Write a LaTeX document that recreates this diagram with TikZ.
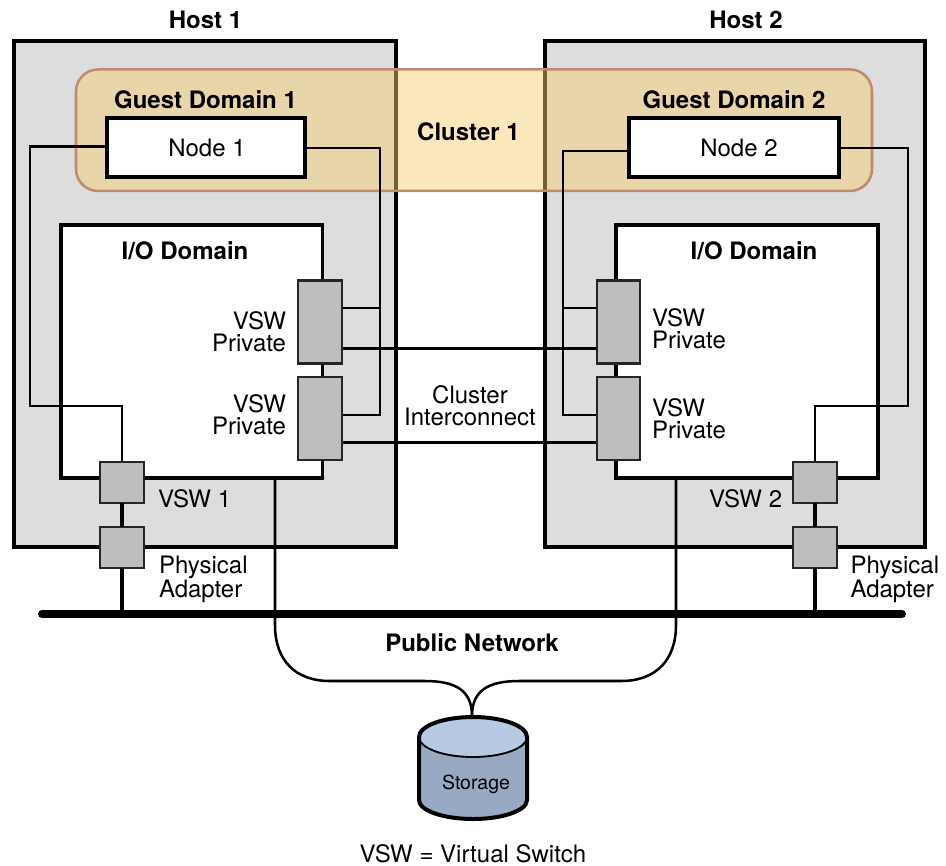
\documentclass[tikz,border=0pt]{standalone}
\usepackage{fontspec}
\setmainfont{TeX Gyre Heros}
\usetikzlibrary{calc}
\definecolor{hostgray}{HTML}{DDDDDD}
\definecolor{clusterfill}{HTML}{F7CE71}
\definecolor{clusteredge}{HTML}{C08A70}
\definecolor{vswgray}{HTML}{BEBEBE}
\definecolor{storetop}{HTML}{B8CAE3}
\definecolor{storebody}{HTML}{98A9C3}
\tikzset{
  every node/.style={inner sep=0pt,outer sep=0pt,font=\fontsize{18}{22}\selectfont},
  boxat/.style 2 args={minimum width=#1*0.75pt,minimum height=#2*0.75pt},
  hostbox/.style={draw=black,line width=3pt,fill=hostgray},
  clusterbox/.style={draw=clusteredge,line width=1.9pt,fill=clusterfill,fill opacity=.47,rounded corners=16.5pt},
  nodebox/.style={draw=black,line width=3pt,fill=white},
  iobox/.style={draw=black,line width=2.7pt,fill=white},
  vswbox/.style={draw=black!85,line width=1.9pt,fill=vswgray},
  thinwire/.style={draw=black,line width=1.9pt},
  icwire/.style={draw=black,line width=2pt},
  linkwire/.style={draw=black,line width=2.6pt},
  titletext/.style={font=\fontsize{18}{22}\bfseries\selectfont},
  vswtext/.style={align=#1,font=\fontsize{18}{16.5}\selectfont},
  adaptertext/.style={align=left,font=\fontsize{18}{18}\selectfont},
}
\begin{document}
\begin{tikzpicture}[x=0.75pt,y=-0.75pt]
\useasboundingbox (0,0) rectangle (946,865);
\fill[white] (0,0) rectangle (946,865);
% hosts
\node[hostbox,boxat={382}{506}] (host1) at (205,294) {};
\node[hostbox,boxat={380}{506}] (host2) at (735,294) {};
% cluster
\node[clusterbox,boxat={796}{121.5}] (cluster) at (474,130.2) {};
% io domains
\node[iobox,boxat={261.5}{253}] (io1) at (191.75,351.5) {};
\node[iobox,boxat={262}{253}] (io2) at (747,351.5) {};
% nodes
\node[nodebox,boxat={198}{58.5}] (node1) at (206,147.7) {};
\node[nodebox,boxat={210}{58.5}] (node2) at (734,147.7) {};
\node (node1label) at (207,147.7) {Node 1};
\node (node2label) at (739,147.7) {Node 2};
% bus
\coordinate (busL) at (42,614);
\coordinate (busR) at (902,614);
% switch positions
\coordinate (v1a) at (320,322);
\coordinate (v1b) at (320,418.5);
\coordinate (v2a) at (618.5,322);
\coordinate (v2b) at (618.5,418.5);
% wires
\coordinate (w1a) at (30,146.5);
\coordinate (w1b) at (30,406);
\coordinate (w1c) at (122,406);
\coordinate (w1d) at (122,462);
\draw[thinwire] (node1.west |- w1a) -- (w1a) -- (w1b) -- (w1c) -- (w1d);
\coordinate (w2a) at (380,148);
\coordinate (w2b) at (380,415);
\coordinate (w2c) at (342,415);
\draw[thinwire] (node1.east |- w2a) -- (w2a) -- (w2b) -- (w2c);
\coordinate (w2d) at (342,308);
\draw[thinwire] (w2d) -- (w2d -| w2a);
\coordinate (w3a) at (563,151);
\coordinate (w3b) at (563,415);
\coordinate (w3c) at (597,415);
\draw[thinwire] (node2.west |- w3a) -- (w3a) -- (w3b) -- (w3c);
\coordinate (w3d) at (597,308);
\draw[thinwire] (w3d) -- (w3d -| w3a);
\coordinate (w4a) at (908,148);
\coordinate (w4b) at (908,406);
\coordinate (w4c) at (815,406);
\coordinate (w4d) at (815,462);
\draw[thinwire] (node2.east |- w4a) -- (w4a) -- (w4b) -- (w4c) -- (w4d);
% interconnects
\coordinate (ic1) at (342,348.5);
\coordinate (ic2) at (342,442.5);
\coordinate (ic3) at (597,348.5);
\coordinate (ic4) at (597,442.5);
\draw[icwire] (ic1) -- (ic3);
\draw[icwire] (ic2) -- (ic4);
% storage cables
\coordinate (st1) at (275,478);
\coordinate (st2) at (676,478);
\coordinate (stt) at (472,716);
\draw[thinwire] (st1) -- (275,625) .. controls (275,660) and (295,681) .. (330,681) -- (425,681) .. controls (455,681) and (472,690) .. (stt);
\draw[thinwire] (st2) -- (676,625) .. controls (676,660) and (656,681) .. (621,681) -- (519,681) .. controls (489,681) and (472,690) .. (stt);
% switches
\node[vswbox,boxat={44}{82.5}] (vsw1a) at (v1a) {};
\node[vswbox,boxat={44}{83}] (vsw1b) at (v1b) {};
\node[vswbox,boxat={43}{82.5}] (vsw2a) at (v2a) {};
\node[vswbox,boxat={43}{83}] (vsw2b) at (v2b) {};
\node[vswbox,boxat={44}{41}] (vsw1) at (122,482.5) {};
\node[vswbox,boxat={44}{41}] (phy1) at (122,547.5) {};
\node[vswbox,boxat={44}{41}] (vsw2) at (815,482.5) {};
\node[vswbox,boxat={44}{41}] (phy2) at (815,547.5) {};
\draw[linkwire] (vsw1.south) -- (phy1.north);
\draw[linkwire] (vsw2.south) -- (phy2.north);
\draw[linkwire] (phy1.south) -- (phy1.south |- busL);
\draw[linkwire] (phy2.south) -- (phy2.south |- busL);
\draw[black,line width=6pt,line cap=round] (busL) -- (busR);
% storage
\fill[storebody] (419,737) -- (419,800) arc[start angle=180,end angle=360,x radius=54,y radius=-19] -- (527,737) arc[start angle=0,end angle=180,x radius=54,y radius=-20] -- cycle;
\fill[storetop] (473,737) ellipse[x radius=54,y radius=-20];
\draw[black,line width=1.4pt] (419,737) arc[start angle=180,end angle=360,x radius=54,y radius=-20];
\draw[black,line width=3pt] (419,800) -- (419,737) arc[start angle=180,end angle=0,x radius=54,y radius=-20] -- (527,800) arc[start angle=360,end angle=180,x radius=54,y radius=-19];
% text
\node[titletext] (t1) at (205.5,20) {Host 1};
\node[titletext] (t2) at (746,20) {Host 2};
\node[titletext] (t3) at (205.5,100) {Guest Domain 1};
\node[titletext] (t4) at (734,100) {Guest Domain 2};
\node[titletext] (t5) at (468.5,132) {Cluster 1};
\node[titletext] (t6) at (185,251) {I/O Domain};
\node[titletext] (t7) at (754,251) {I/O Domain};
\node[vswtext=right,anchor=east] (t8) at (286,332) {VSW\\Private};
\node[vswtext=right,anchor=east] (t9) at (286,414.5) {VSW\\Private};
\node[vswtext=left,anchor=west] (t10) at (652,329) {VSW\\Private};
\node[vswtext=left,anchor=west] (t11) at (652,419) {VSW\\Private};
\node[vswtext=center] (t12) at (470,406) {Cluster\\Interconnect};
\node[anchor=west] (t13) at (158,498.5) {VSW 1};
\node[anchor=west] (t14) at (709,498.5) {VSW 2};
\node[adaptertext,anchor=west] (t15) at (159,579) {Physical\\Adapter};
\node[adaptertext,anchor=west] (t16) at (850.5,579) {Physical\\Adapter};
\node[titletext] (t17) at (472,643) {Public Network};
\node[font=\fontsize{14.6}{18}\selectfont] (t18) at (476,784) {Storage};
\node (t19) at (473,853.5) {VSW = Virtual Switch};
\end{tikzpicture}
\end{document}
